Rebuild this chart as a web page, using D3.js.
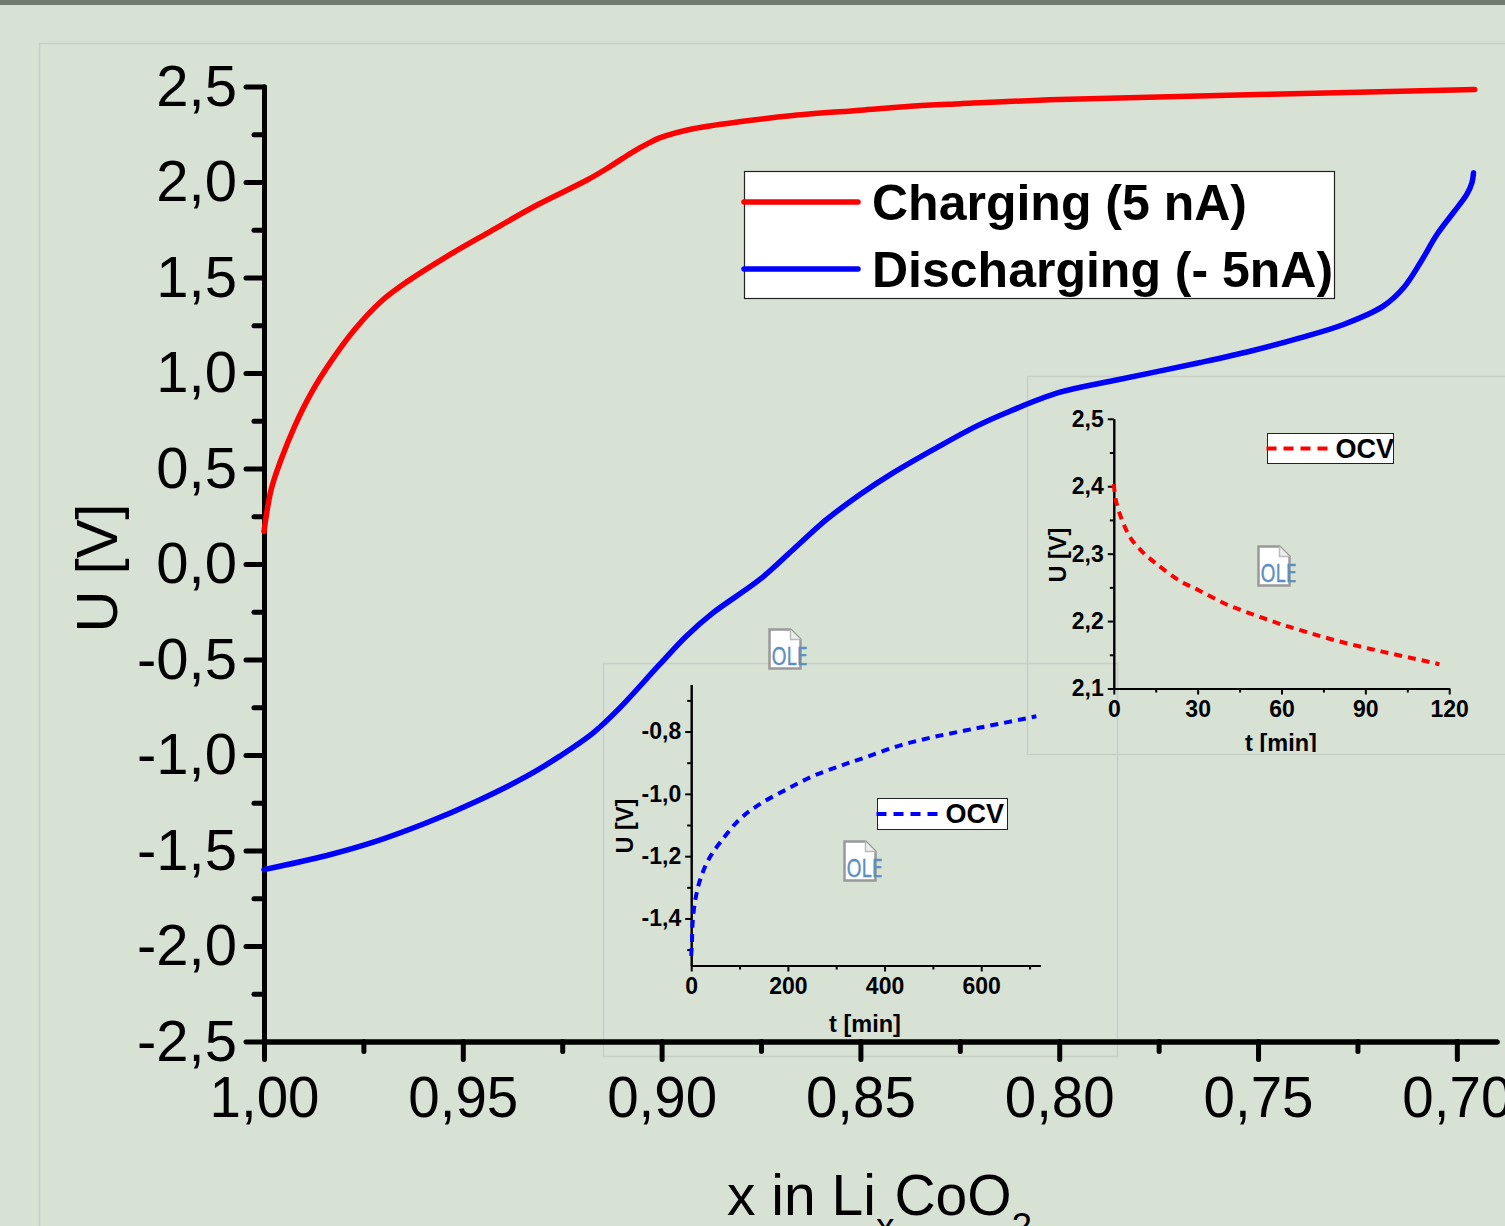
<!DOCTYPE html>
<html>
<head>
<meta charset="utf-8">
<script src="https://cdn.jsdelivr.net/npm/d3@7"></script>
<style>
  html, body { margin: 0; padding: 0; background: #d7e2d5; overflow: hidden; }
  svg { display: block; font-family: "Liberation Sans", Arial, sans-serif; }
  .main-axis .domain, .main-axis line { stroke: #000; stroke-width: 5px; stroke-linecap: round; }
  .main-axis text { font-size: 58px; fill: #000; }
  .main-x text { font-size: 56.5px; }
  .inset-axis .domain, .inset-axis line { stroke: #000; stroke-width: 2px; }
  .inset-axis text { font-size: 23px; font-weight: bold; fill: #000; }
</style>
</head>
<body>
<div id="chart"></div>
<script>
// main charge / discharge curves
var chargeX = [1, .9982, .9957, .9923, .9881, .9831, .9772, .9705, .9638, .9546, .9437, .9311, .9185, .9135, .9076, .9034, .9005, .8921, .8795, .8669, .85, .8374, .8249, .8, .75, .6955];
var chargeU = [.17, .39, .547, .721, .896, 1.062, 1.228, 1.376, 1.481, 1.603, 1.734, 1.882, 2.013, 2.074, 2.153, 2.202, 2.231, 2.279, 2.318, 2.348, 2.376, 2.397, 2.41, 2.432, 2.458, 2.484];
var dischargeX = [1, .9842, .9717, .9591, .9465, .9339, .9256, .9172, .9105, .9005, .8938, .8871, .8753, .8669, .8585, .8501, .8418, .8309, .8208, .8124, .8, .785, .7645, .752, .7394, .7285, .7185, .7134, .7092, .705, .7009, .6975, .6962, .6958];
var dischargeU = [-1.6, -1.526, -1.451, -1.355, -1.242, -1.111, -1.006, -.884, -.753, -.526, -.378, -.256, -.081, .076, .233, .364, .477, .608, .722, .8, .898, .966, 1.055, 1.114, 1.184, 1.254, 1.35, 1.446, 1.577, 1.725, 1.839, 1.935, 1.996, 2.048];

// open circuit insets
var ocvBlueT = [0, 1.4, 3.4, 10, 21, 38, 62, 100, 141, 197, 252, 307, 362, 431, 500, 569, 638, 714];
var ocvBlueU = [-1.52, -1.483, -1.403, -1.328, -1.264, -1.205, -1.152, -1.082, -1.034, -.986, -.943, -.911, -.882, -.845, -.818, -.796, -.775, -.751];
var ocvRedT = [0, .8, 3.2, 6.2, 10.4, 15.2, 23.5, 30.7, 40.2, 49.7, 59.3, 68.8, 79.6, 91.5, 103.4, 116.5];
var ocvRedU = [2.403, 2.378, 2.347, 2.322, 2.302, 2.285, 2.26, 2.245, 2.225, 2.21, 2.196, 2.184, 2.171, 2.159, 2.148, 2.136];

// ticks
var mainXTicks = [1, .95, .9, .85, .8, .75, .7];
var mainXMinor = [.975, .925, .875, .825, .775, .725];
var mainYTicks = [2.5, 2, 1.5, 1, .5, 0, -.5, -1, -1.5, -2, -2.5];
var mainYMinor = [2.25, 1.75, 1.25, .75, .25, -.25, -.75, -1.25, -1.75, -2.25];
var blueXTicks = [0, 200, 400, 600];
var blueXMinor = [100, 300, 500, 700];
var blueYTicks = [-.8, -1, -1.2, -1.4];
var blueYMinor = [-.7, -.9, -1.1, -1.3, -1.5];
var redXTicks = [0, 30, 60, 90, 120];
var redXMinor = [15, 45, 75, 105];
var redYTicks = [2.5, 2.4, 2.3, 2.2, 2.1];
var redYMinor = [2.45, 2.35, 2.25, 2.15];

var legendLabels = ["Charging (5 nA)", "Discharging (- 5nA)"];
var insetLegendLabel = "OCV";

var width = 1505, height = 1226;
var bg = "#d7e2d5", frame = "#c7cfc5";

var svg = d3.select("#chart").append("svg")
    .attr("width", width)
    .attr("height", height);

svg.append("rect").attr("width", width).attr("height", height).attr("fill", bg);
svg.append("rect").attr("width", width).attr("height", 5).attr("fill", "#6f7b6f");

// object frames from the pasted graphs
function addFrame(x, y, w, h) {
  svg.append("rect")
      .attr("x", x).attr("y", y).attr("width", w).attr("height", h)
      .attr("fill", "none")
      .attr("stroke", frame)
      .attr("stroke-width", 1.5);
}
addFrame(39.5, 43.5, 1600, 1400);
addFrame(603.5, 663.5, 514, 393);
addFrame(1027.5, 376.5, 600, 378);

// the plot uses a decimal comma and a plain hyphen
var comma1 = function(d) { return d3.format(".1f")(d).replace("\u2212", "-").replace(".", ","); };
var comma2 = function(d) { return d3.format(".2f")(d).replace(".", ","); };

// ---------------- main graph ----------------
var x = d3.scaleLinear().domain([1, .69]).range([264, 1496.6]);
var y = d3.scaleLinear().domain([-2.5, 2.5]).range([1041.5, 86.5]);

function drawAxes(cls, xs, ys, xTicks, xMinor, yTicks, yMinor, xFmt, yFmt, lenMajor, lenMinor, padX, padY) {
  var xg = svg.append("g").attr("class", cls).attr("transform", "translate(0," + ys.range()[0] + ")");
  xg.call(d3.axisBottom(xs).tickValues(xMinor).tickFormat("").tickSize(lenMinor).tickSizeOuter(0));
  var xg2 = svg.append("g").attr("class", cls + " " + cls.split("-")[0] + "-x").attr("transform", "translate(0," + ys.range()[0] + ")");
  xg2.call(d3.axisBottom(xs).tickValues(xTicks).tickFormat(xFmt).tickSize(lenMajor).tickPadding(padX).tickSizeOuter(0));

  var yg = svg.append("g").attr("class", cls).attr("transform", "translate(" + xs.range()[0] + ",0)");
  yg.call(d3.axisLeft(ys).tickValues(yMinor).tickFormat("").tickSize(lenMinor).tickSizeOuter(0));
  var yg2 = svg.append("g").attr("class", cls).attr("transform", "translate(" + xs.range()[0] + ",0)");
  yg2.call(d3.axisLeft(ys).tickValues(yTicks).tickFormat(yFmt).tickSize(lenMajor).tickPadding(padY).tickSizeOuter(0));
}

drawAxes("main-axis", x, y, mainXTicks, mainXMinor, mainYTicks, mainYMinor, comma2, comma1, 18, 10, 17, 9);

function drawCurve(xs, ys, xv, yv, color, w, dash) {
  var line = d3.line()
      .curve(d3.curveCatmullRom.alpha(.5))
      .x(function(d) { return xs(d[0]); })
      .y(function(d) { return ys(d[1]); });
  svg.append("path")
      .datum(d3.zip(xv, yv))
      .attr("fill", "none")
      .attr("stroke", color)
      .attr("stroke-width", w)
      .attr("stroke-linecap", dash ? "butt" : "round")
      .attr("stroke-dasharray", dash)
      .attr("d", line);
}

drawCurve(x, y, chargeX, chargeU, "#f00", 5.5, null);
drawCurve(x, y, dischargeX, dischargeU, "#00f", 5.5, null);

// axis titles
svg.append("text")
    .attr("transform", "translate(117,568) rotate(-90)")
    .attr("text-anchor", "middle")
    .style("font-size", "58px")
    .text("U [V]");

var xTitle = svg.append("text")
    .attr("x", 727)
    .attr("y", 1215)
    .style("font-size", "57px");
xTitle.append("tspan").text("x in Li");
xTitle.append("tspan").attr("dy", 24).style("font-size", "37px").text("x");
xTitle.append("tspan").attr("dy", -24).text("CoO");
xTitle.append("tspan").attr("dy", 24).style("font-size", "37px").text("2");

// main legend
svg.append("rect")
    .attr("x", 744.5).attr("y", 171.5).attr("width", 590).attr("height", 127)
    .attr("fill", "#fff").attr("stroke", "#222").attr("stroke-width", 1.2);
var legendColors = ["#f00", "#00f"];
legendLabels.forEach(function(label, i) {
  var ly = 202 + i * 67;
  svg.append("line")
      .attr("x1", 744).attr("x2", 858).attr("y1", ly).attr("y2", ly)
      .attr("stroke", legendColors[i]).attr("stroke-width", 5.5).attr("stroke-linecap", "round");
  svg.append("text")
      .attr("x", 872).attr("y", ly + 18)
      .style("font-size", "50px").style("font-weight", "bold")
      .text(label);
});

// ---------------- insets ----------------
function drawInset(o) {
  drawAxes("inset-axis", o.x, o.y, o.xTicks, o.xMinor, o.yTicks, o.yMinor, d3.format("d"), comma1, 6, 4, 6, 4);
  drawCurve(o.x, o.y, o.xv, o.yv, o.color, 4, "8,6");

  var clip = svg.append("g");
  if (o.clipId) {
    svg.append("clipPath").attr("id", o.clipId).append("rect")
        .attr("x", 1027).attr("y", 376).attr("width", 480).attr("height", 376);
    clip.attr("clip-path", "url(#" + o.clipId + ")");
  }
  clip.append("text")
      .attr("x", o.xLabel[0]).attr("y", o.xLabel[1])
      .attr("text-anchor", "middle")
      .style("font-size", "23.5px").style("font-weight", "bold")
      .text("t [min]");
  svg.append("text")
      .attr("transform", "translate(" + o.yLabel[0] + "," + o.yLabel[1] + ") rotate(-90)")
      .attr("text-anchor", "middle")
      .style("font-size", "23.5px").style("font-weight", "bold")
      .text("U [V]");

  svg.append("rect")
      .attr("x", o.box[0]).attr("y", o.box[1]).attr("width", o.box[2]).attr("height", o.box[3])
      .attr("fill", "#fff").attr("stroke", "#222").attr("stroke-width", 1);
  svg.append("line")
      .attr("x1", o.box[0] - 1).attr("x2", o.box[0] + 62)
      .attr("y1", o.box[1] + o.box[3] / 2).attr("y2", o.box[1] + o.box[3] / 2)
      .attr("stroke", o.color).attr("stroke-width", 4).attr("stroke-dasharray", "10,7");
  svg.append("text")
      .attr("x", o.box[0] + 68).attr("y", o.box[1] + o.box[3] / 2 + 9)
      .style("font-size", "27px").style("font-weight", "bold")
      .text(insetLegendLabel);
}

drawInset({
  x: d3.scaleLinear().domain([0, 722]).range([691.2, 1040.2]),
  y: d3.scaleLinear().domain([-1.551, -.649]).range([965.5, 684.5]),
  xTicks: blueXTicks, xMinor: blueXMinor, yTicks: blueYTicks, yMinor: blueYMinor,
  xv: ocvBlueT, yv: ocvBlueU, color: "#00f",
  xLabel: [865, 1032], yLabel: [633, 826],
  box: [877.5, 798.5, 130, 31]
});

drawInset({
  x: d3.scaleLinear().domain([0, 120]).range([1113.8, 1449.2]),
  y: d3.scaleLinear().domain([2.1, 2.5]).range([688.5, 418.8]),
  xTicks: redXTicks, xMinor: redXMinor, yTicks: redYTicks, yMinor: redYMinor,
  xv: ocvRedT, yv: ocvRedU, color: "#f00",
  xLabel: [1281, 751], yLabel: [1066, 555],
  box: [1267.5, 433.5, 126, 30],
  clipId: "red-inset"
});

// embedded object placeholders
function drawOle(px, py) {
  var g = svg.append("g").attr("transform", "translate(" + px + "," + py + ")");
  g.append("path")
      .attr("d", "M1,1H22L32,11V40H1Z")
      .attr("fill", "#fff").attr("stroke", "#999").attr("stroke-width", 2.5);
  g.append("path")
      .attr("d", "M22,1V11H32")
      .attr("fill", "#eee").attr("stroke", "#bbb").attr("stroke-width", 1.5);
  g.append("text")
      .attr("x", 3).attr("y", 36)
      .attr("textLength", 36).attr("lengthAdjust", "spacingAndGlyphs")
      .style("font-size", "25px")
      .style("font-family", "'Open Sans', sans-serif")
      .attr("fill", "#5a8fc0")
      .attr("stroke", "#5a8fc0")
      .attr("stroke-width", .5)
      .text("OLE");
}
drawOle(768.5, 628.5);
drawOle(843.5, 840.5);
drawOle(1257.5, 545.5);
</script>
</body>
</html>
